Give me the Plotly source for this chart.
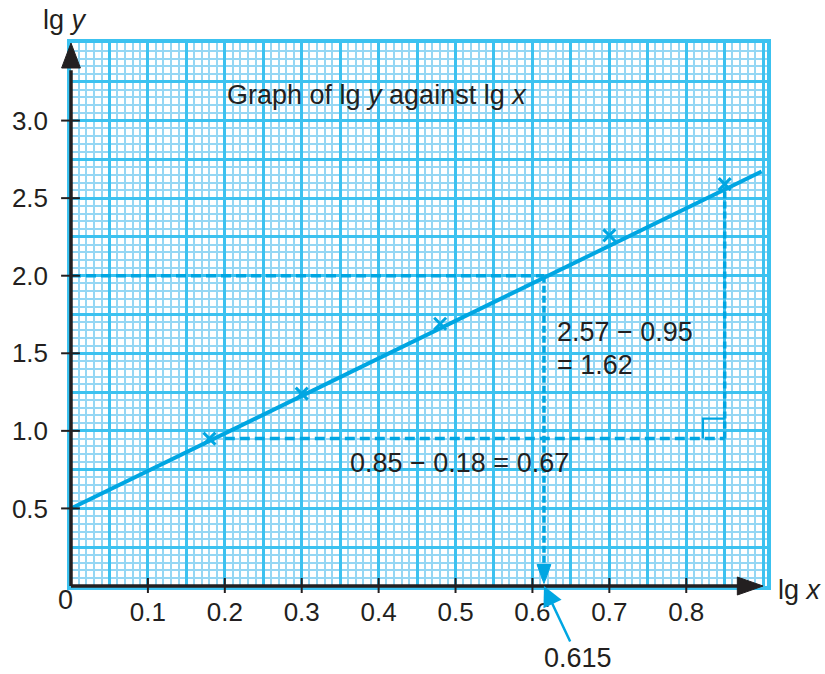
import plotly.graph_objects as go

# Plotted points (lg x, lg y)
lg_x = [0.18, 0.30, 0.48, 0.70, 0.85]
lg_y = [0.95, 1.24, 1.69, 2.26, 2.59]

# Best-fit line: intercept and the gradient triangle used to measure it
intercept = 0.5
tri_x = [0.18, 0.85]
tri_y = [0.95, 2.57]
gradient = (tri_y[1] - tri_y[0]) / (tri_x[1] - tri_x[0])

# Reading taken from the line
read_y = 2.0
read_x = 0.615

# Tick labels
x_ticks = [0.1, 0.2, 0.3, 0.4, 0.5, 0.6, 0.7, 0.8]
x_tick_text = ["0.1", "0.2", "0.3", "0.4", "0.5", "0.6", "0.7", "0.8"]
y_ticks = [0.5, 1.0, 1.5, 2.0, 2.5, 3.0]
y_tick_text = ["0.5", "1.0", "1.5", "2.0", "2.5", "3.0"]

X_MAX, Y_MAX = 0.905, 3.5
W, H = 825, 674
ML, MR, MT, MB = 63, 58, 43, 88
PW, PH = W - ML - MR, H - MT - MB
SX = X_MAX / PW          # data units per pixel, x
SY = Y_MAX / PH          # data units per pixel, y

INK = "#231f20"
BLUE = "#00a6e2"
MAJOR = "#3cc2f0"
MINOR = "#95d7f4"
FONT = "Liberation Sans, Arial, sans-serif"


def px(x):
    """paper fraction for a horizontal pixel position"""
    return (x - ML) / PW


def py(y):
    """paper fraction for a vertical pixel position"""
    return (MT + PH - y) / PH


def dx(v):
    return v / X_MAX


def dy(v):
    return v / Y_MAX


fig = go.Figure()

# fitted straight line
line_end = 0.898
fig.add_trace(go.Scatter(
    x=[0, line_end], y=[intercept, intercept + gradient * line_end],
    mode="lines", line=dict(color=BLUE, width=4), hoverinfo="skip"))

# plotted points as crosses
fig.add_trace(go.Scatter(
    x=lg_x, y=lg_y, mode="markers",
    marker=dict(symbol="x-thin", size=12, line=dict(color=BLUE, width=3)),
    hoverinfo="skip"))

shapes = []

# dashed construction lines for reading x at lg y = 2.0
shapes.append(dict(type="line", xref="x", yref="y", x0=0, x1=read_x, y0=read_y, y1=read_y,
                   line=dict(color=BLUE, width=3.5, dash="10px,5px")))
shapes.append(dict(type="line", xref="x", yref="y", x0=read_x, x1=read_x, y0=read_y, y1=0.12,
                   line=dict(color=BLUE, width=3.5, dash="7px,3px")))
# arrowhead at foot of the reading line
ah_w, ah_l = 7 * SX, 19 * SY
tip = 2.5 * SY
shapes.append(dict(type="path", xref="x", yref="y",
                   path=f"M {read_x - ah_w} {tip + ah_l} L {read_x + ah_w} {tip + ah_l} L {read_x} {tip} Z",
                   fillcolor=BLUE, line=dict(color=BLUE, width=1)))

# gradient triangle
shapes.append(dict(type="line", xref="x", yref="y", x0=0.2, x1=tri_x[1], y0=tri_y[0], y1=tri_y[0],
                   line=dict(color=BLUE, width=3.5, dash="10px,5px")))
shapes.append(dict(type="line", xref="x", yref="y", x0=tri_x[1], x1=tri_x[1], y0=tri_y[0], y1=tri_y[1],
                   line=dict(color=BLUE, width=3.5, dash="7px,3px")))
sq_w, sq_h = 22 * SX, 20 * SY
shapes.append(dict(type="path", xref="x", yref="y",
                   path=f"M {tri_x[1] - sq_w} {tri_y[0]} L {tri_x[1] - sq_w} {tri_y[0] + sq_h} L {tri_x[1]} {tri_y[0] + sq_h}",
                   line=dict(color=BLUE, width=2.2)))

# black axes with arrowheads (paper coordinates so they are not clipped)
x_tip = px(763)
x_base = px(737)
shapes.append(dict(type="line", xref="paper", yref="paper", x0=0, x1=x_base + 0.003, y0=0, y1=0,
                   line=dict(color=INK, width=3.5)))
shapes.append(dict(type="path", xref="paper", yref="paper",
                   path=f"M {x_base} {-9 / PH} L {x_tip} 0 L {x_base} {9 / PH} Z",
                   fillcolor=INK, line=dict(color=INK, width=1)))
y_tip = py(43)
y_base = py(68)
shapes.append(dict(type="line", xref="paper", yref="paper", x0=0, x1=0, y0=0, y1=y_base - 0.004,
                   line=dict(color=INK, width=3.5)))
shapes.append(dict(type="path", xref="paper", yref="paper",
                   path=f"M {-9.5 / PW} {y_base} L 0 {y_tip} L {9.5 / PW} {y_base} Z",
                   fillcolor=INK, line=dict(color=INK, width=1)))

# tick marks crossing each axis
for v in y_ticks:
    shapes.append(dict(type="line", xref="paper", yref="paper",
                       x0=-10 / PW, x1=9 / PW, y0=dy(v), y1=dy(v),
                       line=dict(color=INK, width=2)))
for v in x_ticks:
    shapes.append(dict(type="line", xref="paper", yref="paper",
                       x0=dx(v), x1=dx(v), y0=-7 / PH, y1=8 / PH,
                       line=dict(color=INK, width=2)))

for s in shapes:
    s.setdefault("layer", "above")

txt = dict(family=FONT, size=27, color=INK)
tick_font = dict(family=FONT, size=26, color=INK)


def label(x, y, text, xanchor="center"):
    return dict(xref="paper", yref="paper", x=px(x), y=py(y), text=text,
                xanchor=xanchor, yanchor="middle", showarrow=False, font=txt)


annotations = [
    label(57, 20, "lg <i>y</i>"),
    label(776, 590, "lg <i>x</i>", xanchor="left"),
    label(57, 600, "0"),
    label(373, 95, "Graph of lg <i>y</i> against lg <i>x</i>"),
    label(553, 332, f"{tri_y[1]:.2f} − {tri_y[0]:.2f}", xanchor="left"),
    label(553, 365, f"= {tri_y[1] - tri_y[0]:.2f}", xanchor="left"),
    label(456, 463, f"{tri_x[1]:.2f} − {tri_x[0]:.2f} = {tri_x[1] - tri_x[0]:.2f}"),
    dict(xref="x", yref="y", x=read_x, y=0, text=f"{read_x}", font=txt,
         showarrow=True, ax=34, ay=72, arrowhead=2, arrowsize=1.6,
         arrowwidth=2.5, arrowcolor=BLUE, standoff=0),
]

grid_x = [round(0.05 * i, 2) for i in range(19)]
grid_y = [round(0.25 * i, 2) for i in range(15)]
fig.update_layout(
    width=W, height=H,
    margin=dict(l=ML, r=MR, t=MT, b=MB),
    paper_bgcolor="white", plot_bgcolor="white",
    showlegend=False,
    shapes=shapes, annotations=annotations,
    xaxis=dict(
        range=[0, X_MAX], tickmode="array", tickvals=grid_x,
        ticktext=[x_tick_text[x_ticks.index(v)] if v in x_ticks else "" for v in grid_x],
        ticks="", ticklabelstandoff=0,
        tickfont=tick_font, showgrid=True, gridcolor=MAJOR, gridwidth=3.2,
        minor=dict(tickmode="linear", tick0=0, dtick=0.01, showgrid=True,
                   gridcolor=MINOR, gridwidth=2.2),
        zeroline=False, showline=True, linecolor=MAJOR, linewidth=3.5, mirror=True,
        fixedrange=True),
    yaxis=dict(
        range=[0, Y_MAX], tickmode="array", tickvals=grid_y,
        ticktext=[y_tick_text[y_ticks.index(v)] if v in y_ticks else "" for v in grid_y],
        ticks="", ticklabelstandoff=14,
        tickfont=tick_font, showgrid=True, gridcolor=MAJOR, gridwidth=3.2,
        minor=dict(tickmode="linear", tick0=0, dtick=0.05, showgrid=True,
                   gridcolor=MINOR, gridwidth=2.2),
        zeroline=False, showline=True, linecolor=MAJOR, linewidth=3.5, mirror=True,
        fixedrange=True),
)

fig.write_html("out.html")
